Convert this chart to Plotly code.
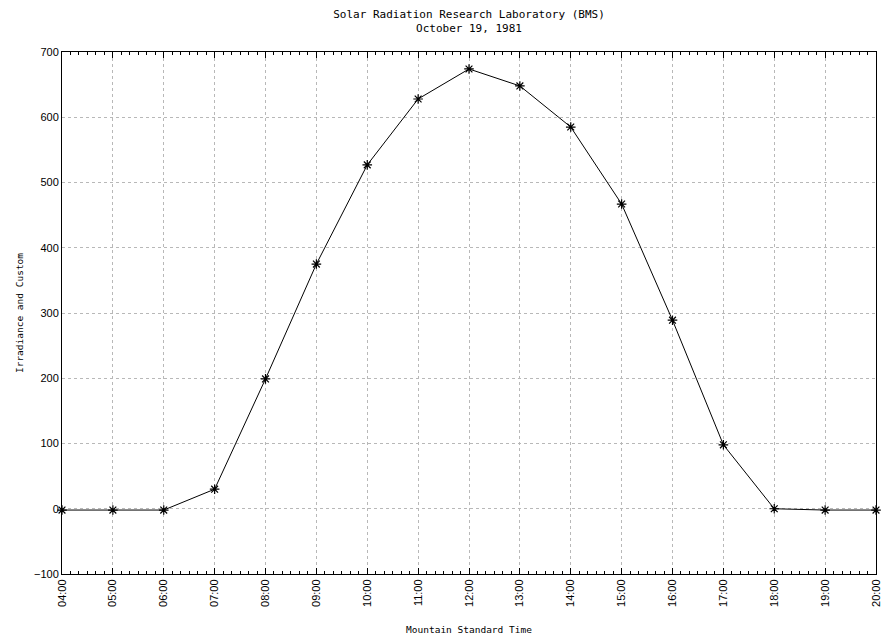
import plotly.graph_objects as go

times = ["04:00", "05:00", "06:00", "07:00", "08:00", "09:00", "10:00", "11:00",
         "12:00", "13:00", "14:00", "15:00", "16:00", "17:00", "18:00", "19:00", "20:00"]
irradiance = [-2, -2, -2, 30, 199, 375, 527, 628, 674, 648, 585, 467, 289, 98, 0, -2, -2]

x = ["1981-10-19 " + t for t in times]

fig = go.Figure()
fig.add_trace(go.Scatter(
    x=x, y=irradiance, mode="lines+markers",
    line=dict(color="black", width=1),
    marker=dict(symbol="asterisk-open", size=8, color="black",
                line=dict(color="black", width=1.2)),
    showlegend=False, cliponaxis=False,
))

mono = "DejaVu Sans Mono"
fig.update_layout(
    width=885, height=638,
    margin=dict(l=62, r=9, t=52, b=64),
    paper_bgcolor="white", plot_bgcolor="white",
    title=dict(text="Solar Radiation Research Laboratory (BMS)<br>October 19, 1981",
               x=0.5, xref="paper", y=0.972, yref="container", yanchor="top",
               font=dict(family=mono, size=11, color="black")),
    font=dict(family="Liberation Sans", size=11, color="black"),
)
fig.update_xaxes(
    type="date", range=["1981-10-19 04:00", "1981-10-19 20:00"],
    tickformat="%H:%M", dtick=3600000, tickangle=-90,
    showline=True, linecolor="black", linewidth=1, mirror="ticks",
    ticks="inside", ticklen=6, tickcolor="black",
    showgrid=True, gridcolor="#b8b8b8", griddash="dot", gridwidth=1,
    minor=dict(dtick=600000, ticks="inside", ticklen=3, tickcolor="black", showgrid=False),
    title=dict(text="Mountain Standard Time", font=dict(family=mono, size=9.5), standoff=20),
    tickfont=dict(family="Liberation Sans", size=11),
    zeroline=False, automargin=False,
)
fig.update_yaxes(
    range=[-100, 700], dtick=100,
    showline=True, linecolor="black", linewidth=1, mirror=True,
    ticks="", showgrid=True, gridcolor="#b8b8b8", griddash="dot", gridwidth=1,
    zeroline=False, automargin=False,
    title=dict(text="Irradiance and Custom", font=dict(family=mono, size=9.5), standoff=8),
    tickfont=dict(family="Liberation Sans", size=11),
)
fig.write_html("out.html")
